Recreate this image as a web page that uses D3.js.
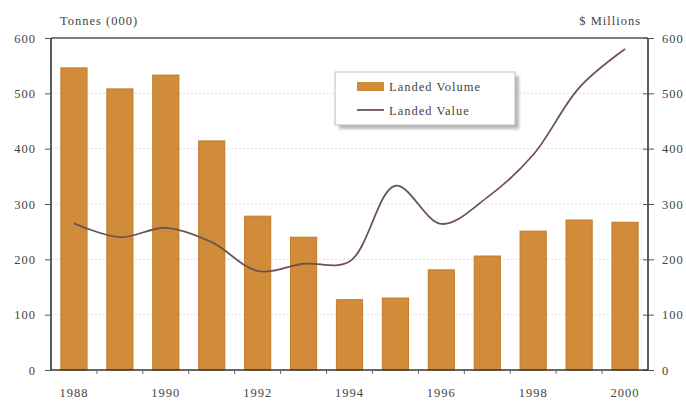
<!DOCTYPE html>
<html>
<head>
<meta charset="utf-8">
<script src="https://cdn.jsdelivr.net/npm/d3@7"></script>
<style>
  html, body { margin: 0; padding: 0; background: #fff; }
  svg text { font-family: "Liberation Serif", "DejaVu Serif", serif; fill: #444; letter-spacing: 1px; }
</style>
</head>
<body>
<svg id="chart" width="686" height="403"></svg>
<script>
// Landed volume (thousand tonnes) and landed value ($ millions), 1988–2000
const years = [1988, 1989, 1990, 1991, 1992, 1993, 1994, 1995, 1996, 1997, 1998, 1999, 2000];
const landedVolume = [546, 508, 533, 414, 278, 240, 127, 130, 181, 206, 251, 271, 267];
const landedValue = [265, 240, 257, 231, 179, 192, 196, 333, 264, 312, 389, 510, 580];
const yTicks = [0, 100, 200, 300, 400, 500, 600];
const xTickLabels = [1988, 1990, 1992, 1994, 1996, 1998, 2000];

const svg = d3.select("#chart");
const m = { left: 51, right: 648, top: 38, bottom: 370 };
const fs = 12.5;

const x = d3.scaleBand().domain(years).range([m.left, m.right]).paddingInner(0.43).paddingOuter(0.215);
const yL = d3.scaleLinear().domain([0, 600]).range([m.bottom, m.top]);
const yR = d3.scaleLinear().domain([0, 600]).range([m.bottom, m.top]);

// horizontal gridlines
svg.append("g").selectAll("line").data(yTicks.slice(1, -1)).join("line")
  .attr("x1", m.left).attr("x2", m.right)
  .attr("y1", d => yL(d)).attr("y2", d => yL(d))
  .attr("stroke", "#ddd").attr("stroke-width", 1).attr("stroke-dasharray", "2,2");

// volume bars
svg.append("g").selectAll("rect").data(years).join("rect")
  .attr("x", d => x(d))
  .attr("width", x.bandwidth())
  .attr("y", (d, i) => yL(landedVolume[i]))
  .attr("height", (d, i) => yL(0) - yL(landedVolume[i]))
  .attr("fill", "#d08c38")
  .attr("stroke", "#c07c2c").attr("stroke-width", 1);

// value line
const line = d3.line()
  .x((d, i) => x(years[i]) + x.bandwidth() / 2)
  .y(d => yR(d))
  .curve(d3.curveCatmullRom.alpha(0.5));
svg.append("path").datum(landedValue)
  .attr("d", line)
  .attr("fill", "none")
  .attr("stroke", "#6e5352").attr("stroke-width", 1.8);

// frame
svg.append("line").attr("x1", m.left).attr("x2", m.right).attr("y1", m.top).attr("y2", m.top)
  .attr("stroke", "#555").attr("stroke-width", 1.5);

// left axis
const axL = svg.append("g").attr("transform", `translate(${m.left},0)`)
  .call(d3.axisLeft(yL).tickValues(yTicks).tickSize(6).tickPadding(9).tickFormat(d3.format("d")));
// right axis
const axR = svg.append("g").attr("transform", `translate(${m.right},0)`)
  .call(d3.axisRight(yR).tickValues(yTicks).tickSizeInner(6).tickSizeOuter(0).tickPadding(8).tickFormat(d3.format("d")));
axR.selectAll(".tick line").attr("x1", -5);
// bottom axis
const axB = svg.append("g").attr("transform", `translate(0,${m.bottom})`)
  .call(d3.axisBottom(x).tickValues(xTickLabels).tickSize(0).tickPadding(18));
// band boundary ticks
svg.append("g").selectAll("line").data(years.slice(1)).join("line")
  .attr("x1", d => x(d) - x.step() * x.paddingInner() / 2)
  .attr("x2", d => x(d) - x.step() * x.paddingInner() / 2)
  .attr("y1", m.bottom).attr("y2", m.bottom + 4)
  .attr("stroke", "#666");

[axL, axR, axB].forEach(a => {
  a.selectAll(".domain").attr("stroke", "#333").attr("stroke-width", 1.6);
  a.selectAll(".tick line").attr("stroke", "#555");
  a.selectAll("text").attr("font-size", fs).attr("fill", "#444")
    .attr("font-family", "Liberation Serif, serif");
});
axL.select(".domain").attr("d", `M0,${m.top}V${m.bottom}`);
axR.select(".domain").attr("d", `M0,${m.top}V${m.bottom}`);
axB.select(".domain").attr("d", `M${m.left},0H${m.right}`);

// axis titles
svg.append("text").attr("x", 60).attr("y", 25).attr("font-size", fs).text("Tonnes (000)");
svg.append("text").attr("x", 641).attr("y", 25).attr("font-size", fs).attr("text-anchor", "end").text("$ Millions");

// legend
const lg = svg.append("g").attr("transform", "translate(335,72)");
lg.append("rect").attr("x", 4).attr("y", 4).attr("width", 180).attr("height", 53).attr("fill", "#999").attr("opacity", 0.7)
  .style("filter", "blur(1.5px)");
lg.append("rect").attr("width", 180).attr("height", 53).attr("fill", "#fff").attr("stroke", "#bbb");
lg.append("rect").attr("x", 22).attr("y", 10).attr("width", 27).attr("height", 9).attr("fill", "#d08c38");
lg.append("line").attr("x1", 22).attr("x2", 49).attr("y1", 38).attr("y2", 38).attr("stroke", "#6e5352").attr("stroke-width", 1.8);
lg.append("text").attr("x", 54).attr("y", 19).attr("font-size", fs).text("Landed Volume");
lg.append("text").attr("x", 54).attr("y", 43).attr("font-size", fs).text("Landed Value");
</script>
</body>
</html>
